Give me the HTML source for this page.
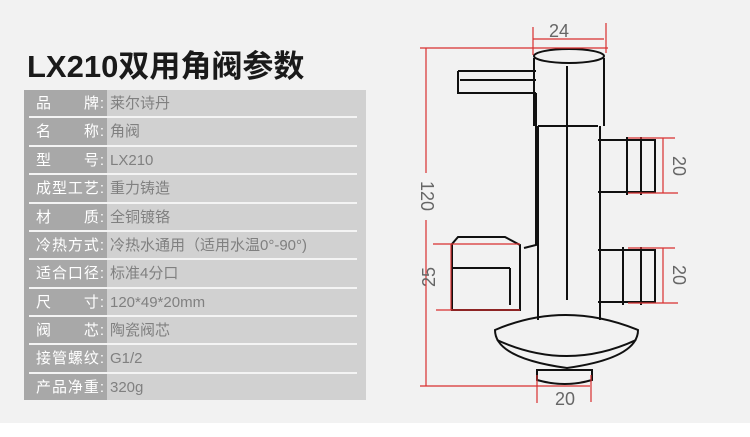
<!DOCTYPE html>
<html><head><meta charset="utf-8"><style>
body{margin:0;width:750px;height:437px;background:#fff;overflow:hidden;font-family:"Liberation Sans","Noto Sans CJK SC",sans-serif;}
#bg{position:absolute;left:0;top:0;width:750px;height:423px;background:#f2f2f2;}
#title{position:absolute;left:27px;top:47px;font-size:31px;font-weight:bold;color:#1a1a1a;line-height:40px;}
#tbl{position:absolute;left:24px;top:90px;width:342px;height:310px;background:#d1d1d1;}
#lab{position:absolute;left:0;top:0;width:83px;height:310px;background:#a8a8a8;}
.row{position:absolute;left:0;width:342px;height:28px;font-size:15px;line-height:28px;}
.l{position:absolute;left:12px;width:68px;color:#fff;text-align:justify;text-align-last:justify;}
.v{position:absolute;left:86px;color:#808080;}
.sep{position:absolute;left:5px;width:328px;height:2px;background:#f4f4f4;}
</style></head><body>
<div id="bg"></div>
<div id="title">LX210双用角阀参数</div>
<div id="tbl"><div id="lab"></div>
<div class="row" style="top:0"><span class="l">品　　牌:</span><span class="v">莱尔诗丹</span></div>
<div class="sep" style="top:26px"></div>
<div class="row" style="top:28px"><span class="l">名　　称:</span><span class="v">角阀</span></div>
<div class="sep" style="top:55px"></div>
<div class="row" style="top:57px"><span class="l">型　　号:</span><span class="v">LX210</span></div>
<div class="sep" style="top:83px"></div>
<div class="row" style="top:85px"><span class="l">成型工艺:</span><span class="v">重力铸造</span></div>
<div class="sep" style="top:112px"></div>
<div class="row" style="top:114px"><span class="l">材　　质:</span><span class="v">全铜镀铬</span></div>
<div class="sep" style="top:140px"></div>
<div class="row" style="top:142px"><span class="l">冷热方式:</span><span class="v">冷热水通用（适用水温0°-90°)</span></div>
<div class="sep" style="top:168px"></div>
<div class="row" style="top:170px"><span class="l">适合口径:</span><span class="v">标准4分口</span></div>
<div class="sep" style="top:197px"></div>
<div class="row" style="top:199px"><span class="l">尺　　寸:</span><span class="v">120*49*20mm</span></div>
<div class="sep" style="top:225px"></div>
<div class="row" style="top:227px"><span class="l">阀　　芯:</span><span class="v">陶瓷阀芯</span></div>
<div class="sep" style="top:253px"></div>
<div class="row" style="top:255px"><span class="l">接管螺纹:</span><span class="v">G1/2</span></div>
<div class="sep" style="top:282px"></div>
<div class="row" style="top:284px"><span class="l">产品净重:</span><span class="v">320g</span></div>
</div>
<svg style="position:absolute;left:0;top:0" width="750" height="437">
<g fill="none" stroke="#111" stroke-width="2">
<ellipse cx="569" cy="56" rx="35" ry="7"/>
<path d="M534 58 V126 M604 58 V126 M538 126 H598"/>
<path d="M538 126 V320 M600 126 V320 M567 66 V300"/>
<path d="M458 71 H536 M458 71 V93 H536 M460 80 H536 M536 93 V245 L524 248"/>
<path d="M458 237 H505 L520 245 V310 H452 V244 Z M452 268 H510 M510 268 V305"/>
<path d="M598 140 H655 V192 H598 M627 137 V195 M641 137 V195"/>
<path d="M598 250 H655 V302 H598 M623 247 V305 M641 247 V305"/>
<path d="M495 330 Q565 300 638 330 Q638 358 567 368 Q495 358 495 330 Z"/>
<path d="M497 340 Q567 372 636 340"/>
<path d="M537 370 H592 V380 Q565 388 537 380 Z"/>
</g>
<g stroke="#d93030" stroke-width="1.2" fill="none">
<path d="M533 27 V55 M606 23 V53 M533 39 H604"/>
<path d="M420 48 H608 M420 386 H590 M426 48 V173 M426 220 V386"/>
<path d="M433 244 H520 M436 310 H520 M451 244 V310"/>
<path d="M628 138 H675 M628 193 H678 M663 138 V193"/>
<path d="M628 248 H675 M628 303 H678 M663 248 V303"/>
<path d="M537 375 V403 M591 375 V402"/>
</g>
<g fill="#666" font-size="18" font-family="Liberation Sans,sans-serif" text-anchor="middle">
<text x="559" y="37">24</text>
<text x="565" y="405">20</text>
<text transform="translate(421,196) rotate(90)">120</text>
<text transform="translate(435,277) rotate(-90)">25</text>
<text transform="translate(673,166) rotate(90)">20</text>
<text transform="translate(673,275) rotate(90)">20</text>
</g>
</svg>
</body></html>
